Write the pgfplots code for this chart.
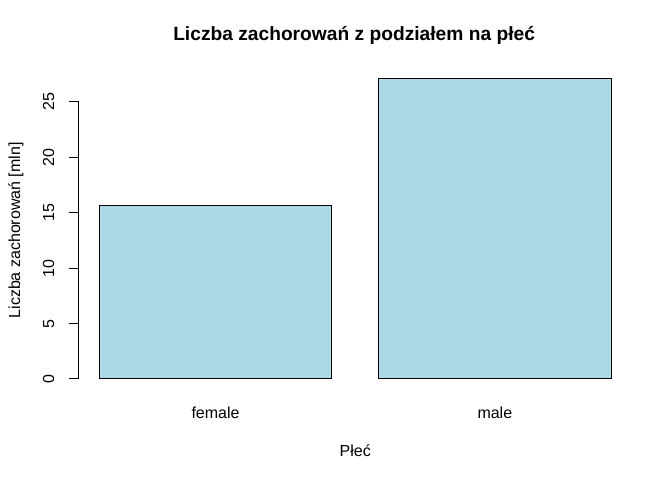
\documentclass[border=0pt]{standalone}
\usepackage{fontspec}
\setmainfont{Liberation Sans}
\usepackage{pgfplots}
\pgfplotsset{compat=1.18}
\definecolor{barblue}{RGB}{173,216,230}
\begin{document}
\begin{tikzpicture}
\path[use as bounding box] (0pt,0pt) rectangle (672pt,480pt);
\begin{axis}[
  at={(78.7pt,97.9pt)}, anchor=south west,
  scale only axis, width=553pt, height=303.4pt,
  xmin=0.112, xmax=2.488, ymin=-0.28, ymax=27.08,
  clip=false,
  axis lines*=left,
  axis line style={draw=none},
  tick align=outside,
  major tick length=9.6pt,
  ytick={0,5,10,15,20,25},
  y tick style={black, line width=1pt},
  xtick={0.7,1.9},
  xticklabels={female,male},
  x tick style={draw=none},
  /pgf/number format/assume math mode=true,
  tick label style={font=\fontsize{16}{19.2}\selectfont},
  yticklabel style={rotate=90, anchor=base},
  yticklabel shift=15pt,
  xticklabel style={anchor=base},
  xticklabel shift=26.5pt,
  title={Liczba zachorowań z podziałem na płeć},
  title style={at={(axis description cs:0.498,1.1058)}, anchor=base, font=\bfseries\fontsize{19.2}{23}\selectfont},
  xlabel={Płeć},
  xlabel style={at={(axis description cs:0.5,-0.2436)}, anchor=base, font=\fontsize{16}{19.2}\selectfont},
  ylabel={Liczba zachorowań [mln]},
  ylabel style={at={(axis description cs:-0.1061,0.5)}, anchor=base, font=\fontsize{16}{19.2}\selectfont},
]
\addplot[ybar, bar width=1, bar shift=0pt, fill=barblue, draw=black, line width=1pt]
  coordinates {(0.7,15.62) (1.9,27.1)};
\draw[line width=1pt] (axis cs:0.112,0) -- (axis cs:0.112,25);
\end{axis}
\end{tikzpicture}
\end{document}
